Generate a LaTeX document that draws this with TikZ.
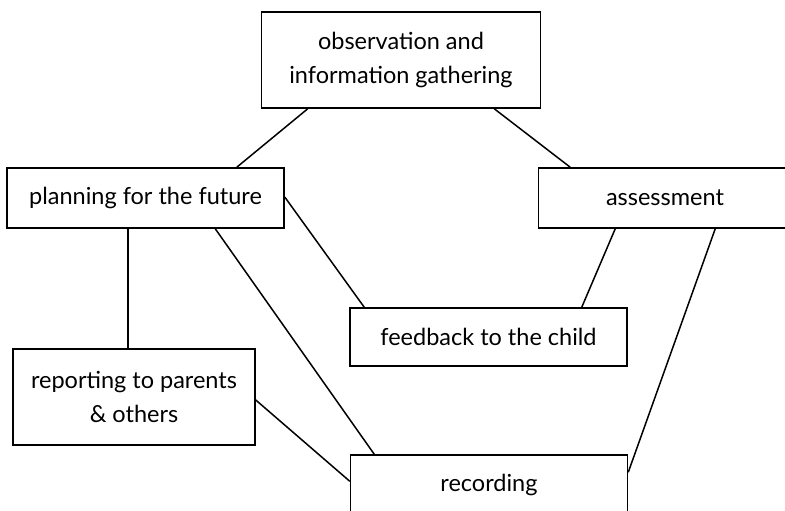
\documentclass[tikz,border=0pt]{standalone}
\usepackage{fontspec}
\setmainfont{Lato}
\begin{document}
\begin{tikzpicture}[x=1pt,y=-1pt,
  box/.style={draw, line width=1.5pt, rectangle, inner sep=0pt, align=center,
              font=\fontsize{23.5}{34}\selectfont},
  link/.style={line width=1.5pt}]
% page area
\clip (0,0) rectangle (785,511);

% boxes
\node[box, minimum width=279pt, minimum height=96pt] (obs) at (401,60)
  {observation and\\information gathering};
\node[box, minimum width=277pt, minimum height=60pt] (plan) at (145.5,198)
  {planning for the future};
\node[box, minimum width=253pt, minimum height=60pt] (assess) at (665,198)
  {assessment};
\node[box, minimum width=277pt, minimum height=58pt] (feed) at (488.5,337)
  {feedback to the child};
\node[box, minimum width=242pt, minimum height=96pt] (rep) at (134,397)
  {reporting to parents\\\& others};
\node[box, minimum width=277pt, minimum height=60pt] (rec) at (489,485)
  {recording};

% connectors
\draw[link] ([xshift=47pt]obs.south west) -- ([xshift=230.5pt]plan.north west);
\draw[link] ([xshift=233.5pt]obs.south west) -- ([xshift=32.5pt]assess.north west);
\draw[link] ([yshift=1pt]plan.east) -- ([xshift=15pt]feed.north west);
\draw[link] ([xshift=209pt]plan.south west) -- ([xshift=24.5pt]rec.north west);
\draw[link] ([xshift=121.5pt]plan.south west) -- ([xshift=115.5pt]rep.north west);
\draw[link] ([yshift=-3pt]rep.east) -- ([yshift=-27pt]rec.north west);
\draw[link] ([xshift=77.5pt]assess.south west) -- ([xshift=232.5pt]feed.north west);
\draw[link] ([xshift=177.5pt]assess.south west) -- ([yshift=-18pt]rec.north east);
\end{tikzpicture}
\end{document}
